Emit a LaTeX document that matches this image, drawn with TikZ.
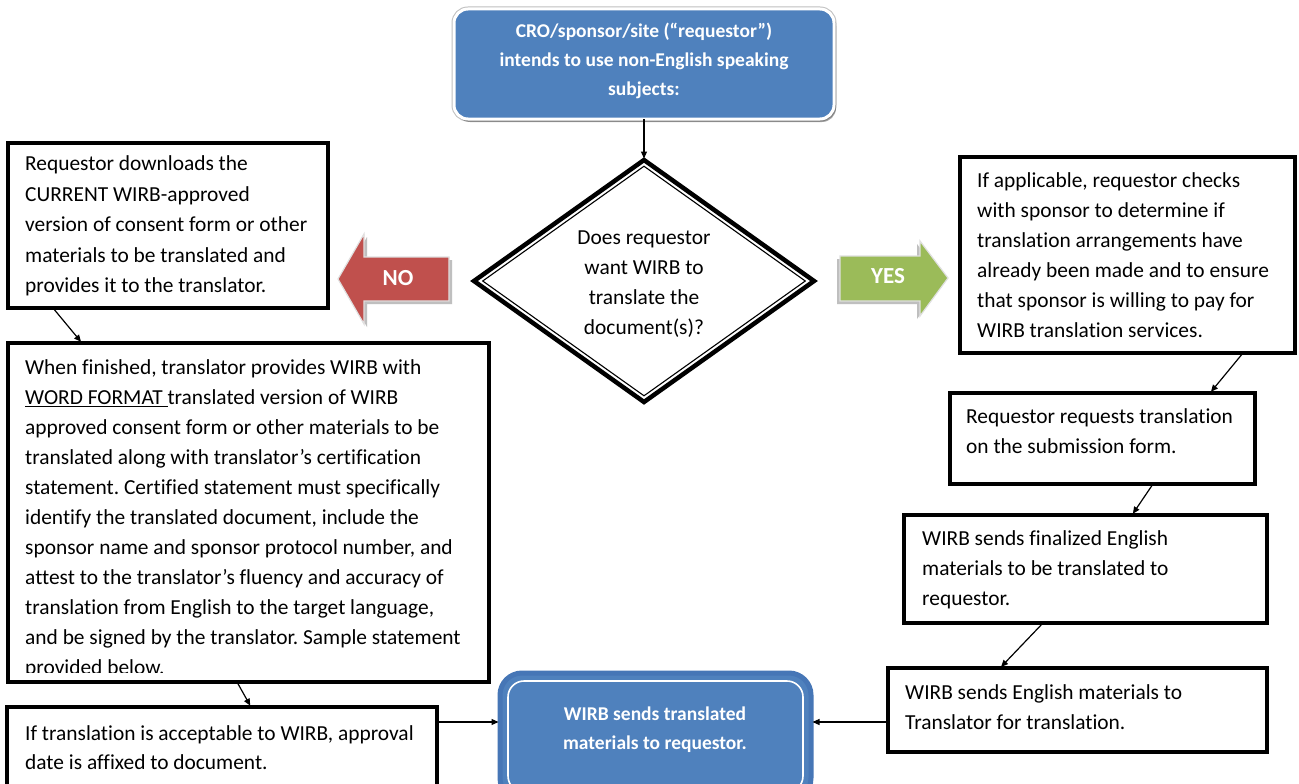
\documentclass[tikz,border=0pt]{standalone}
\usepackage{fontspec}
\setmainfont{Carlito}[Ligatures=NoCommon]
\usetikzlibrary{arrows.meta,shapes.geometric,shadows,calc}
\definecolor{wblue}{HTML}{4F81BD}
\definecolor{wblueD}{HTML}{4676B6}
\definecolor{wred}{HTML}{C0504D}
\definecolor{wgreen}{HTML}{9BBB59}
\frenchspacing
\begin{document}
\begin{tikzpicture}[x=1pt,y=-1pt,
  box/.style={draw=black, line width=4pt, rectangle, inner sep=0pt, outer sep=0pt, fill=white},
  txt/.style={anchor=north west, inner sep=0pt, align=left, font=\fontsize{21.4}{30}\selectfont, execute at begin node=\strut},
  btxt/.style={inner sep=0pt, align=center, text=white, font=\bfseries\fontsize{19.5}{29}\selectfont, execute at begin node=\strut, execute at end node=\strut},
  arr/.style={-{Triangle[length=7pt,width=6pt]}, line width=1.2pt, black, shorten >=1.5pt},
  blk/.style={text=white, font=\bfseries\fontsize{23}{27}\selectfont, inner sep=0pt}
]
\useasboundingbox (0,0) rectangle (1299,784);
\fill[white] (0,0) rectangle (1299,784);

% top blue box
\node[btxt, rounded corners=14pt, fill=wblue, draw=white, line width=3pt,
      preaction={draw=black!25, line width=5pt},
      drop shadow={shadow xshift=2pt, shadow yshift=-3pt, fill=black, opacity=0.35},
      minimum width=380pt, minimum height=110pt, outer sep=0pt]
  (top) at (644,64) {CRO/sponsor/site (“requestor”)\\intends to use non-English speaking\\subjects:};

% decision diamond
\node[diamond, draw=black, line width=4.5pt, minimum width=340pt, minimum height=242pt,
      inner sep=0pt, outer sep=0pt] (q) at (644,281) {};
\node[diamond, draw=black, line width=1.1pt, minimum width=323pt, minimum height=230pt,
      inner sep=0pt] (qi) at (q.center) {};
\node[txt, anchor=north, align=center] (qt) at (644,230.6)
  {Does requestor\\want WIRB to\\translate the\\document(s)?};

% NO arrow
\fill[black!25] ([xshift=3pt,yshift=-3pt]338,279) -- ([xshift=3pt,yshift=-3pt]364,234) -- ([xshift=3pt,yshift=-3pt]364,257) -- ([xshift=3pt,yshift=-3pt]449,257) -- ([xshift=3pt,yshift=-3pt]449,301) -- ([xshift=3pt,yshift=-3pt]364,301) -- ([xshift=3pt,yshift=-3pt]364,324) -- cycle;
\fill[wred, draw=black!12, line width=1.2pt] (338,279) -- (364,234) -- (364,257) -- (449,257) -- (449,301) -- (364,301) -- (364,324) -- cycle;
\node[blk] (no) at (398,278) {NO};

% YES arrow
\fill[black!25] ([xshift=-3pt,yshift=-3pt]840,256) -- ([xshift=-3pt,yshift=-3pt]920,256) -- ([xshift=-3pt,yshift=-3pt]920,241) -- ([xshift=-3pt,yshift=-3pt]948,278) -- ([xshift=-3pt,yshift=-3pt]920,316) -- ([xshift=-3pt,yshift=-3pt]920,301) -- ([xshift=-3pt,yshift=-3pt]840,301) -- cycle;
\fill[wgreen, draw=black!12, line width=1.2pt] (840,256) -- (920,256) -- (920,241) -- (948,278) -- (920,316) -- (920,301) -- (840,301) -- cycle;
\node[blk] (yes) at (888,276) {YES};

% left boxes
\node[box, minimum width=320pt, minimum height=165pt] (dl) at (168,225.5) {};
\node[txt, font=\fontsize{21.4}{30.5}\selectfont] (dlt) at (25,155.5)
  {Requestor downloads the\\CURRENT WIRB-approved\\version of consent form or other\\materials to be translated and\\provides it to the translator.};

\node[box, minimum width=481pt, minimum height=339pt] (fin) at (248.5,512.5) {};
\begin{scope}
\clip (10,345) rectangle (487,672);
\node[txt] (fint) at (25,359.6)
  {When finished, translator provides WIRB with\\\underline{WORD FORMAT\ }translated version of WIRB\\approved consent form or other materials to be\\translated along with translator’s certification\\statement. Certified statement must specifically\\identify the translated document, include the\\sponsor name and sponsor protocol number, and\\attest to the translator’s fluency and accuracy of\\translation from English to the target language,\\and be signed by the translator. Sample statement\\provided below.};
\end{scope}

\node[box, minimum width=430pt, minimum height=81pt] (acc) at (222,747.5) {};
\node[txt, font=\fontsize{21.4}{29}\selectfont] (acct) at (25,725.8)
  {If translation is acceptable to WIRB, approval\\date is affixed to document.};

% right boxes
\node[box, minimum width=335pt, minimum height=196pt] (chk) at (1127.5,255) {};
\node[txt] (chkt) at (977,172.6)
  {If applicable, requestor checks\\with sponsor to determine if\\translation arrangements have\\already been made and to ensure\\that sponsor is willing to pay for\\WIRB translation services.};

\node[box, minimum width=305pt, minimum height=91pt] (req) at (1102.5,438.5) {};
\node[txt] (reqt) at (966,408.6)
  {Requestor requests translation\\on the submission form.};

\node[box, minimum width=363pt, minimum height=108pt] (fb) at (1085.5,569) {};
\node[txt] (fbt) at (922,530.6)
  {WIRB sends finalized English\\materials to be translated to\\requestor.};

\node[box, minimum width=379pt, minimum height=84pt] (tr) at (1077.5,710) {};
\node[txt] (trt) at (905,684.6)
  {WIRB sends English materials to\\Translator for translation.};

% bottom blue box
\node[rounded corners=22pt, fill=wblue, draw=wblueD, line width=5pt, inner sep=0pt, outer sep=0pt,
      minimum width=311pt, minimum height=127pt] (bot) at (655.5,736.5) {};
\draw[white, line width=1.6pt, rounded corners=16pt]
  ([xshift=8pt,yshift=-8pt]bot.north west) rectangle ([xshift=-8pt,yshift=8pt]bot.south east);
\node[btxt, anchor=north] (bott) at (655,706.5) {WIRB sends translated\\materials to requestor.};

% connectors
\draw[arr] (top.south) -- (q.north);
\draw[arr] ([xshift=45pt]dl.south west) -- ([xshift=74pt]fin.north west);
\draw[arr] ([xshift=229pt]fin.south west) -- ([xshift=244pt]acc.north west);
\coordinate (p4) at ([yshift=25.5pt]acc.east);
\draw[arr] (p4) -- (p4 -| bot.west);
\coordinate (p5) at ([yshift=-12pt]tr.west);
\draw[arr] (p5) -- (p5 -| bot.east);
\draw[arr] ([xshift=-52pt]chk.south east) -- ([xshift=-45pt]req.north east);
\draw[arr] ([xshift=203pt]req.south west) -- ([xshift=228pt]fb.north west);
\draw[arr] ([xshift=139pt]fb.south west) -- ([xshift=112pt]tr.north west);
\end{tikzpicture}
\end{document}
